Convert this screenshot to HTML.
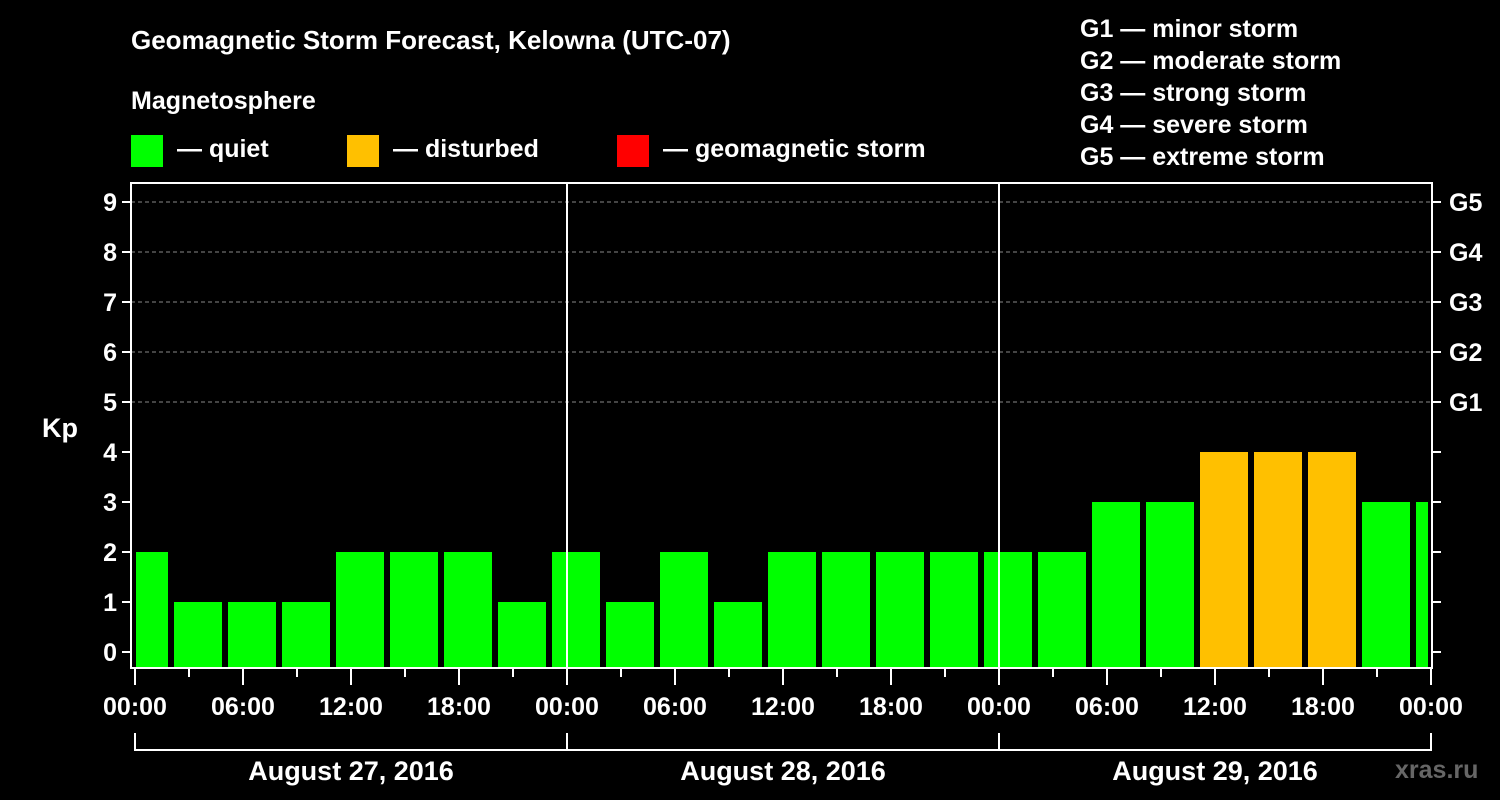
<!DOCTYPE html>
<html><head><meta charset="utf-8"><style>
body{margin:0;background:#000;width:1500px;height:800px;overflow:hidden}
svg{display:block;font-family:"Liberation Sans",Arial,sans-serif;font-weight:bold}
</style></head><body>
<svg id="c" width="1500" height="800">
<rect width="1500" height="800" fill="#000"/>
<text x="131" y="49" fill="#fff" font-size="26">Geomagnetic Storm Forecast, Kelowna (UTC-07)</text>
<text x="131" y="109" fill="#fff" font-size="25">Magnetosphere</text>
<g><rect x="131" y="135" width="32" height="32" fill="#00ff00"/><text x="177" y="157" fill="#fff" font-size="25">— quiet</text></g>
<g><rect x="347" y="135" width="32" height="32" fill="#ffc000"/><text x="393" y="157" fill="#fff" font-size="25">— disturbed</text></g>
<g><rect x="617" y="135" width="32" height="32" fill="#ff0000"/><text x="663" y="157" fill="#fff" font-size="25">— geomagnetic storm</text></g>
<g fill="#fff" font-size="25">
<text x="1080" y="37">G1 — minor storm</text>
<text x="1080" y="69">G2 — moderate storm</text>
<text x="1080" y="101">G3 — strong storm</text>
<text x="1080" y="133">G4 — severe storm</text>
<text x="1080" y="165">G5 — extreme storm</text>
</g>
<text x="42" y="437" fill="#fff" font-size="27">Kp</text>
<text x="1395" y="778" fill="#666" font-size="25">xras.ru</text>
<g id="grid"></g><g id="bars"></g><g id="axes"></g>
</svg>
<script>
const kpValues=[2,1,1,1,2,2,2,1, 2,1,2,1,2,2,2,2, 2,2,3,3,4,4,4,3, 3];
const days=["August 27, 2016","August 28, 2016","August 29, 2016"];
const xTickLabels=["00:00","06:00","12:00","18:00"];
const gLabels=["G1","G2","G3","G4","G5"];
const NS="http://www.w3.org/2000/svg";
const X0=135,HPX=18,L=131,R=1432,T=183,B=668;
const xs=h=>X0+h*HPX;
const ys=v=>652-50*v;
function mk(p,tag,a){const e=document.createElementNS(NS,tag);for(const k in a)e.setAttribute(k,a[k]);p.appendChild(e);return e;}
const grid=document.getElementById('grid'),bars=document.getElementById('bars'),axes=document.getElementById('axes');
for(let v=5;v<=9;v++){const l=mk(grid,'line',{x1:L,x2:R,y1:ys(v),y2:ys(v),stroke:'#888','stroke-dasharray':'4,3','stroke-width':1});

}
kpValues.forEach((v,i)=>{
 let x1=xs(i*3)-15,x2=xs(i*3)+33;x1=Math.max(x1,136);x2=Math.min(x2,1428);
 const col=v>=5?'#ff0000':v>=4?'#ffc000':'#00ff00';
 const r=mk(bars,'rect',{x:x1,y:ys(v),width:x2-x1,height:667-ys(v),fill:col});
 
 
});
for(let d=1;d<days.length;d++){const l=mk(axes,'line',{x1:xs(d*24),x2:xs(d*24),y1:T,y2:B,stroke:'#fff','stroke-width':2});

}
const fr=mk(axes,'rect',{x:L,y:T,width:R-L,height:B-T,fill:'none',stroke:'#fff','stroke-width':2});


for(let v=0;v<=9;v++){
 mk(axes,'line',{x1:L-9,x2:L,y1:ys(v),y2:ys(v),stroke:'#fff','stroke-width':2});
 mk(axes,'line',{x1:R,x2:R+9,y1:ys(v),y2:ys(v),stroke:'#fff','stroke-width':2});
 const t=mk(axes,'text',{x:L-14,y:ys(v)+9,fill:'#fff','font-size':25,'text-anchor':'end'});t.textContent=v;
 
 
}
gLabels.forEach((g,i)=>{const t=mk(axes,'text',{x:1449,y:ys(5+i)+9,fill:'#fff','font-size':25});t.textContent=g;

});
for(let h=0;h<=72;h+=3){const major=h%6===0;
 mk(axes,'line',{x1:xs(h),x2:xs(h),y1:B,y2:major?685:677,stroke:'#fff','stroke-width':2});
 if(major&&(h%24===0||h%6===0)){const lab=xTickLabels[(h/6)%4];
  const t=mk(axes,'text',{x:xs(h),y:715,fill:'#fff','font-size':25,'text-anchor':'middle'});t.textContent=lab;
  
  }}
days.forEach((d,i)=>{
 const a=xs(i*24),b=xs(i*24+24);
 const p=mk(axes,'path',{d:`M${a},733V750H${b}V733`,fill:'none',stroke:'#fff','stroke-width':2});
 
 
 const t=mk(axes,'text',{x:(a+b)/2,y:780,fill:'#fff','font-size':27,'text-anchor':'middle'});t.textContent=d;
 
 
});
</script>
</body></html>
